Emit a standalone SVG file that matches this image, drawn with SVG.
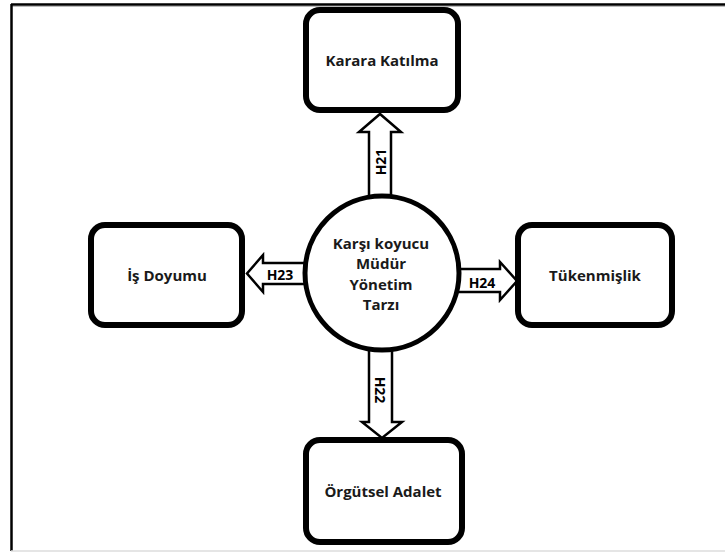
<svg xmlns="http://www.w3.org/2000/svg" width="725" height="552" viewBox="0 0 725 552">
  <style>
    .box { fill: #ffffff; stroke: #000000; stroke-width: 6; }
    .hub { fill: #ffffff; stroke: #000000; stroke-width: 5; }
    .arrow { fill: #ffffff; stroke: #000000; stroke-width: 2.5; stroke-linejoin: miter; }
    .label { font-family: "Open Sans", "Liberation Sans", sans-serif; font-weight: bold; font-size: 15px; fill: #1a1a1a; text-anchor: middle; }
    .hyp { font-family: "Open Sans", "Liberation Sans", sans-serif; font-weight: bold; font-size: 14px; fill: #000000; text-anchor: middle; dominant-baseline: central; }
  </style>

  <!-- page frame -->
  <rect x="0" y="0" width="725" height="552" fill="#ffffff"/>
  <line x1="11" y1="4.5" x2="725" y2="4.5" stroke="#000000" stroke-width="2.5"/>
  <line x1="11" y1="6.5" x2="725" y2="6.5" stroke="#bbbbbb" stroke-width="1"/>
  <line x1="11.5" y1="4" x2="11.5" y2="551" stroke="#000000" stroke-width="2.5"/>
  <line x1="11" y1="551" x2="725" y2="551" stroke="#dddddd" stroke-width="1.5"/>

  <!-- hypothesis arrows -->
  <g id="connectors">
    <polygon class="arrow" points="369,210 369,132 359,132 380,114 401,132 391,132 391,210"/>
    <text class="hyp" transform="translate(380,162) rotate(-90)">H21</text>

    <polygon class="arrow" points="369,340 369,422 362,422 382,438 402,422 392,422 392,340"/>
    <text class="hyp" transform="translate(380,390) rotate(90)">H22</text>

    <polygon class="arrow" points="312,263 263,263 263,255 247,273.5 263,292 263,284 312,284"/>
    <text class="hyp" x="280" y="274">H23</text>

    <polygon class="arrow" points="452,269 500,269 500,262 517,281 500,300 500,292 452,292"/>
    <text class="hyp" x="482" y="282">H24</text>
  </g>

  <!-- central construct -->
  <g id="hub">
    <circle class="hub" cx="382" cy="273" r="77"/>
    <text class="label" x="381" y="248.5">Karşı koyucu</text>
    <text class="label" x="381" y="269">Müdür</text>
    <text class="label" x="381" y="289.5">Yönetim</text>
    <text class="label" x="381" y="310">Tarzı</text>
  </g>

  <g id="karara-katilma">
    <rect class="box" x="306" y="10" width="152" height="100" rx="14"/>
    <text class="label" x="382" y="65.5">Karara Katılma</text>
  </g>

  <g id="is-doyumu">
    <rect class="box" x="91" y="225" width="151" height="100" rx="14"/>
    <text class="label" x="167" y="280.5">İş Doyumu</text>
  </g>

  <g id="tukenmislik">
    <rect class="box" x="518" y="225" width="154" height="100" rx="14"/>
    <text class="label" x="595" y="280.5">Tükenmişlik</text>
  </g>

  <g id="orgutsel-adalet">
    <rect class="box" x="306" y="440" width="156" height="102" rx="14"/>
    <text class="label" x="383" y="497">Örgütsel Adalet</text>
  </g>
</svg>
